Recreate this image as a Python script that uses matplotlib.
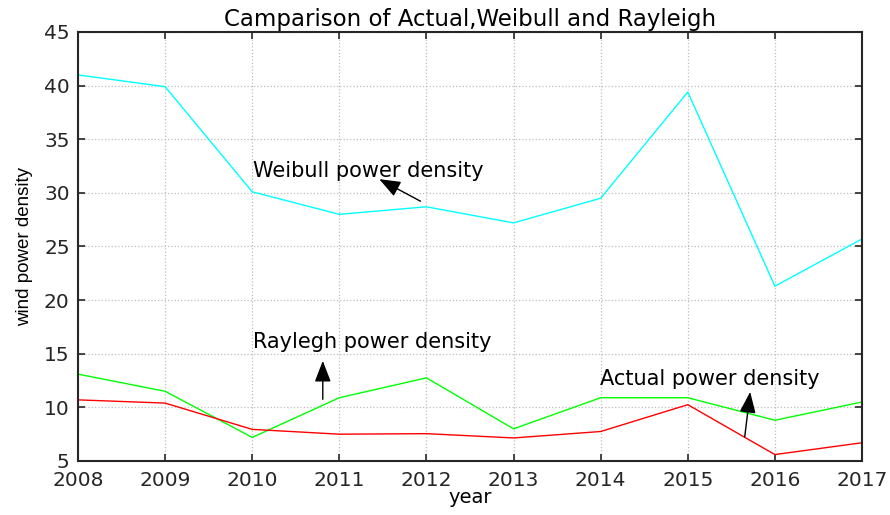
import matplotlib
matplotlib.use("Agg")
import matplotlib.pyplot as plt

plt.rcParams['font.family'] = ['DejaVu Sans']

years = [2008, 2009, 2010, 2011, 2012, 2013, 2014, 2015, 2016, 2017]
weibull = [41.0, 39.9, 30.1, 28.0, 28.7, 27.2, 29.5, 39.4, 21.3, 25.7]
rayleigh = [13.1, 11.5, 7.2, 10.9, 12.75, 8.0, 10.9, 10.9, 8.8, 10.5]
actual = [10.7, 10.4, 7.95, 7.5, 7.55, 7.15, 7.75, 10.25, 5.6, 6.7]
yticks = [5, 10, 15, 20, 25, 30, 35, 40, 45]

fig = plt.figure(figsize=(8.9, 5.15), dpi=100)
ax = fig.add_axes([78/890, 1-461/515, (862-78)/890, (461-32)/515])

ax.plot(years, weibull, color='#00ffff', lw=1.0)
ax.plot(years, rayleigh, color='#00ff00', lw=1.0)
ax.plot(years, actual, color='#ff0000', lw=1.0)

ax.set_xlim(2008, 2017)
ax.set_ylim(5, 45)
ax.set_xticks(years)
ax.set_yticks(yticks)
ax.grid(True, color='#bdbdbd', linestyle=':', linewidth=0.9)
ax.tick_params(direction='in', top=True, right=True, length=5, width=1.2,
               labelsize=14.5, colors='#262626')
ax.tick_params(axis='y', pad=6)
ax.tick_params(axis='x', pad=7)
for s in ax.spines.values():
    s.set_linewidth(1.5)
    s.set_color('#262626')

ax.set_title('Camparison of Actual,Weibull and Rayleigh', fontsize=16.5, pad=4)
ax.set_xlabel('year', fontsize=14, labelpad=-1)
ax.set_ylabel('wind power density', fontsize=13.5, labelpad=8,
              family=['Liberation Sans', 'DejaVu Sans'])

arrowprops = dict(arrowstyle='-|>,head_length=1.3,head_width=0.5', color='black', lw=1.0)
ax.annotate('', xy=(2011.43, 31.4), xytext=(2011.96, 29.1), arrowprops=arrowprops)
ax.annotate('', xy=(2010.81, 14.6), xytext=(2010.81, 10.5), arrowprops=arrowprops)
ax.annotate('', xy=(2015.72, 11.7), xytext=(2015.65, 7.0), arrowprops=arrowprops)

ax.text(2010.01, 32.0, 'Weibull power density', fontsize=15, va='center', ha='left')
ax.text(2010.01, 16.1, 'Raylegh power density', fontsize=15, va='center', ha='left')
ax.text(2013.99, 12.66, 'Actual power density', fontsize=15, va='center', ha='left')

fig.savefig('out.png', dpi=100)
